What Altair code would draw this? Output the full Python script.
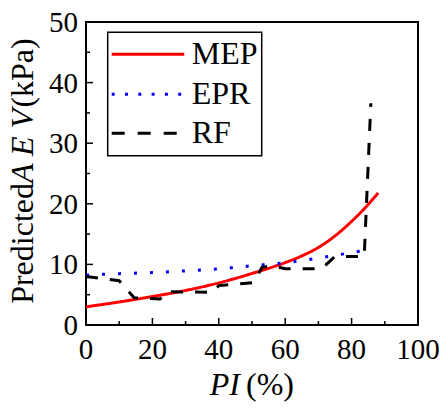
import altair as alt
import pandas as pd

# ---- data ----
pi_mep = [0, 10, 20, 30, 40, 50, 60, 65, 70, 75, 80, 84, 88]
aev_mep = [3.0, 3.8, 4.7, 5.7, 6.95, 8.5, 10.3, 11.4, 12.8, 14.7, 17.1, 19.3, 21.8]

pi_epr = [0, 10, 20, 30, 40, 50, 60, 70, 80, 84]
aev_epr = [8.25, 8.47, 8.65, 8.93, 9.27, 9.77, 10.28, 11.03, 11.95, 12.3]

pi_rf = [0, 10, 14.5, 22.3, 24.5, 38, 40, 50.5, 53, 56, 60, 71, 75, 83.8, 85.8]
aev_rf = [8.0, 7.3, 4.5, 4.3, 5.5, 5.4, 6.5, 7.0, 9.5, 9.8, 9.3, 9.3, 11.3, 11.3, 36.6]

series = ["MEP", "EPR", "RF"]
colors = ["#ff0000", "#0000ff", "#000000"]
dashes = [[1, 0], [3, 13], [12, 12]]
legend_dashes = [[1, 0], [3, 10.3], [13, 13]]

x_major = [0, 20, 40, 60, 80, 100]
x_minor = [10, 30, 50, 70, 90]
y_major = [0, 10, 20, 30, 40, 50]
y_minor = [5, 15, 25, 35, 45]

W, H = 332, 303
FONT = "Liberation Serif"

xscale = alt.Scale(domain=[0, 100], nice=False, zero=False)
yscale = alt.Scale(domain=[0, 50], nice=False)


def line(pis, vals, color, dash, interp):
    df = pd.DataFrame({"pi": pis, "aev": vals})
    return alt.Chart(df).mark_line(color=color, strokeWidth=3, strokeDash=dash,
                                   interpolate=interp, strokeCap="butt").encode(
        x=alt.X("pi:Q", scale=xscale, axis=None),
        y=alt.Y("aev:Q", scale=yscale, axis=None),
    )


mep = line(pi_mep, aev_mep, colors[0], dashes[0], "monotone")
epr = line(pi_epr, aev_epr, colors[1], dashes[1], "monotone")
rf = line(pi_rf, aev_rf, colors[2], dashes[2], "linear")


def xticks(vals, length):
    return alt.Chart(pd.DataFrame({"pi": vals})).mark_rule(color="black", strokeWidth=1.5).encode(
        x=alt.X("pi:Q", scale=xscale, axis=None), y=alt.value(H), y2=alt.value(H - length))


def yticks(vals, length):
    return alt.Chart(pd.DataFrame({"aev": vals})).mark_rule(color="black", strokeWidth=1.5).encode(
        y=alt.Y("aev:Q", scale=yscale, axis=None), x=alt.value(0), x2=alt.value(length))


xlabels = alt.Chart(pd.DataFrame({"pi": x_major})).mark_text(
    font=FONT, fontSize=29, align="center", baseline="alphabetic", color="black").encode(
    x=alt.X("pi:Q", scale=xscale, axis=None), y=alt.value(H + 34), text=alt.Text("pi:Q", format="d"))

ylabels = alt.Chart(pd.DataFrame({"aev": y_major})).mark_text(
    font=FONT, fontSize=29, align="right", baseline="middle", color="black", dy=1).encode(
    y=alt.Y("aev:Q", scale=yscale, axis=None), x=alt.value(-8), text=alt.Text("aev:Q", format="d"))

one = pd.DataFrame({"a": [0]})


def txt(text, x, y, style="normal", align="left", angle=0, size=32):
    return alt.Chart(one).mark_text(text=text, font=FONT, fontStyle=style, fontSize=size,
                                    align=align, baseline="alphabetic", angle=angle,
                                    color="black").encode(x=alt.value(x), y=alt.value(y))


titles = [
    txt("PI", 154, 373, style="italic", align="right"),
    txt("(%)", 160, 373),
    txt("Predicted", -53, 161, align="right", angle=270),
    txt("A E V", -53, 161, style="italic", align="left", angle=270),
    txt("(kPa)", -53, 16.3, align="right", angle=270),
]

legend_box = alt.Chart(one).mark_rect(fill="white", stroke="black", strokeWidth=1.5).encode(
    x=alt.value(21.7), x2=alt.value(175.7), y=alt.value(10.3), y2=alt.value(133.7))

legend_items = []
rows = [32.3, 72.3, 111.3]
for name, c, d, yy in zip(series, colors, legend_dashes, rows):
    legend_items.append(
        alt.Chart(one).mark_rule(color=c, strokeWidth=3, strokeDash=d, strokeCap="butt").encode(
            x=alt.value(25.7), x2=alt.value(98.3), y=alt.value(yy)))
    legend_items.append(
        alt.Chart(one).mark_text(text=name, font=FONT, fontSize=32, align="left",
                                 baseline="middle", color="black").encode(
            x=alt.value(105.7), y=alt.value(yy)))

chart = alt.layer(
    mep, epr, rf,
    xticks(x_major, 7), xticks(x_minor, 4), yticks(y_major, 7), yticks(y_minor, 4),
    xlabels, ylabels,
    *titles, legend_box, *legend_items,
).properties(
    width=W, height=H,
    autosize=alt.AutoSizeParams(type="none"),
    padding={"left": 86, "top": 22, "right": 30, "bottom": 85},
    background="white",
).configure_view(
    stroke="black", strokeWidth=2
)

chart.save("out.html", embed_options={"renderer": "svg", "actions": False})
